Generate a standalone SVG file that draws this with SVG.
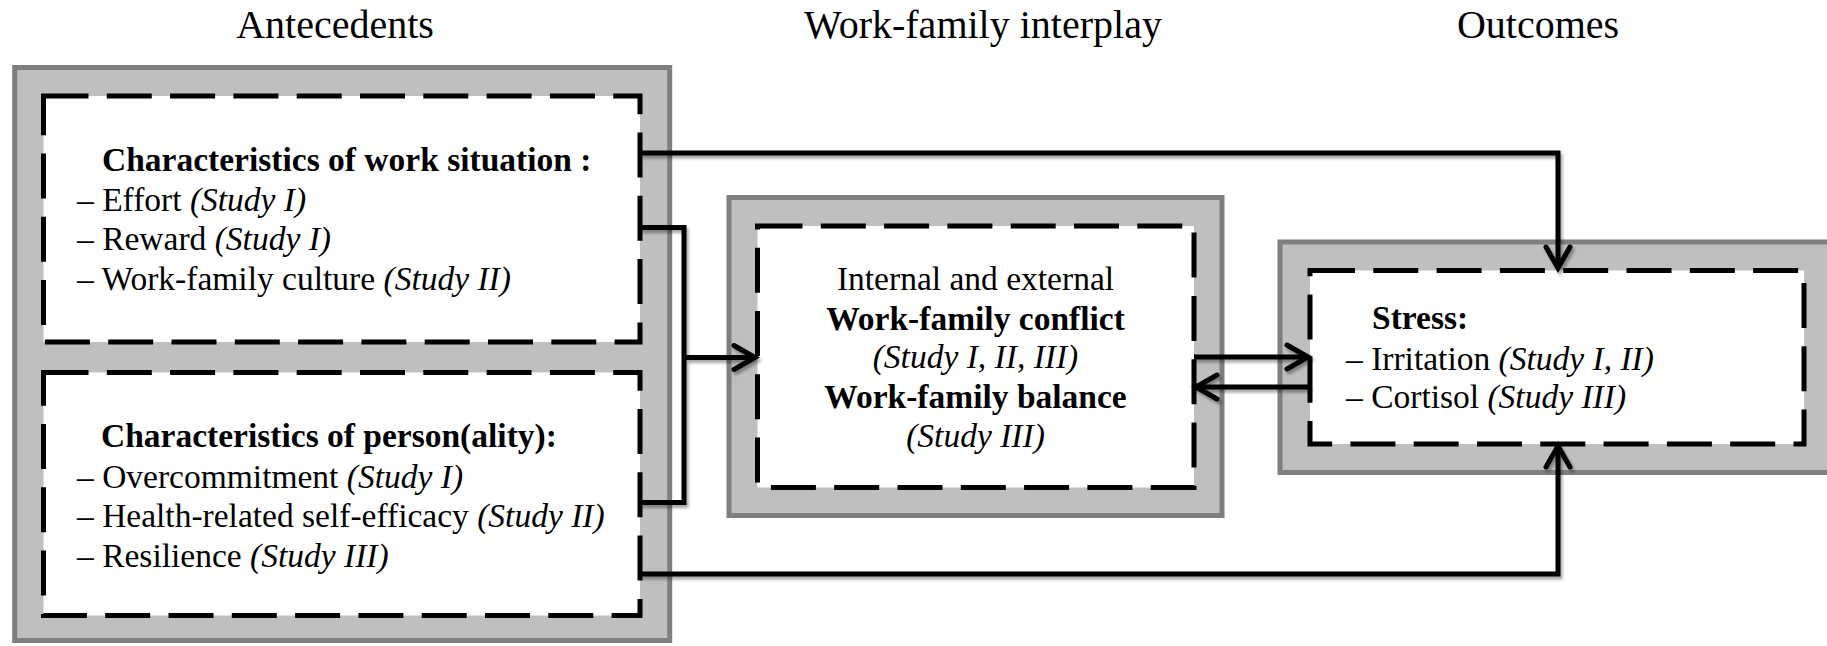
<svg xmlns="http://www.w3.org/2000/svg" width="1827" height="646" viewBox="0 0 1827 646">
  <style>
    .frame { fill: #BFBFBF; stroke: #7F7F7F; stroke-width: 5; }
    .inner { fill: #FFFFFF; stroke: #000000; stroke-width: 5; stroke-dasharray: 45 18.3; }
    .head { font-family: "Liberation Serif", "Times New Roman", serif; font-size: 40px; fill: #000; text-anchor: middle; }
    .txt { font-family: "Liberation Serif", "Times New Roman", serif; font-size: 33.5px; fill: #000; }
    .b { font-weight: bold; }
    .i { font-style: italic; }
    .mid { text-anchor: middle; }
    .wire { fill: none; stroke: #000; stroke-width: 5; stroke-linejoin: miter; }
  </style>
  <defs>
    <marker id="arrow" markerUnits="userSpaceOnUse" viewBox="-26 -16 30 32" refX="0" refY="0" markerWidth="30" markerHeight="32" orient="auto" overflow="visible">
      <path d="M-21,-12 L0,0 L-21,12" fill="none" stroke="#000" stroke-width="5" stroke-linecap="round" stroke-linejoin="miter"/>
    </marker>
    <filter id="shadow" x="-5%" y="-5%" width="110%" height="120%">
      <feDropShadow dx="2" dy="3" stdDeviation="1.5" flood-color="#000" flood-opacity="0.35"/>
    </filter>
  </defs>

  <rect width="1827" height="646" fill="#FFFFFF"/>

  <!-- column headings -->
  <g id="headings">
    <text class="head" x="335" y="38">Antecedents</text>
    <text class="head" x="983" y="38">Work-family interplay</text>
    <text class="head" x="1538" y="38">Outcomes</text>
  </g>

  <!-- antecedents: work situation and person(ality) -->
  <g id="antecedents">
    <rect class="frame" x="14.7" y="67.5" width="655" height="573"/>
    <g id="work-situation">
      <rect class="inner" x="43.5" y="96" width="596.5" height="246"/>
      <text class="txt b" x="102" y="171">Characteristics of work situation :</text>
      <text class="txt" x="77" y="211">– Effort <tspan class="i">(Study I)</tspan></text>
      <text class="txt" x="77" y="250">– Reward <tspan class="i">(Study I)</tspan></text>
      <text class="txt" x="77" y="290">– Work-family culture <tspan class="i">(Study II)</tspan></text>
    </g>
    <g id="personality">
      <rect class="inner" x="43.5" y="372.5" width="596.5" height="243"/>
      <text class="txt b" x="101" y="447">Characteristics of person(ality):</text>
      <text class="txt" x="77" y="488">– Overcommitment <tspan class="i">(Study I)</tspan></text>
      <text class="txt" x="77" y="527">– Health-related self-efficacy <tspan class="i">(Study II)</tspan></text>
      <text class="txt" x="77" y="567">– Resilience <tspan class="i">(Study III)</tspan></text>
    </g>
  </g>

  <!-- work-family interplay -->
  <g id="interplay">
    <rect class="frame" x="729" y="197.5" width="493" height="318"/>
    <rect class="inner" x="757.5" y="226" width="436.5" height="261.5"/>
    <text class="txt mid" x="975.5" y="290">Internal and external</text>
    <text class="txt mid b" x="975.5" y="330">Work-family conflict</text>
    <text class="txt mid i" x="975.5" y="368">(Study I, II, III)</text>
    <text class="txt mid b" x="975.5" y="408">Work-family balance</text>
    <text class="txt mid i" x="975.5" y="447">(Study III)</text>
  </g>

  <!-- outcomes: stress -->
  <g id="outcomes">
    <rect class="frame" x="1280" y="242" width="560" height="230.5"/>
    <rect class="inner" x="1310" y="270.5" width="494" height="173.5"/>
    <text class="txt b" x="1372" y="329">Stress:</text>
    <text class="txt" x="1346" y="370">– Irritation <tspan class="i">(Study I, II)</tspan></text>
    <text class="txt" x="1346" y="408">– Cortisol <tspan class="i">(Study III)</tspan></text>
  </g>

  <!-- connectors -->
  <g id="connectors" filter="url(#shadow)">
    <path class="wire" d="M640,153 H1558 V268" marker-end="url(#arrow)"/>
    <path class="wire" d="M640,227.5 H684 V502.5 H640"/>
    <path class="wire" d="M684,357.5 H755" marker-end="url(#arrow)"/>
    <path class="wire" d="M640,574 H1558 V446" marker-end="url(#arrow)"/>
    <path class="wire" d="M1194,357 H1308" marker-end="url(#arrow)"/>
    <path class="wire" d="M1310,387 H1196" marker-end="url(#arrow)"/>
  </g>
</svg>
